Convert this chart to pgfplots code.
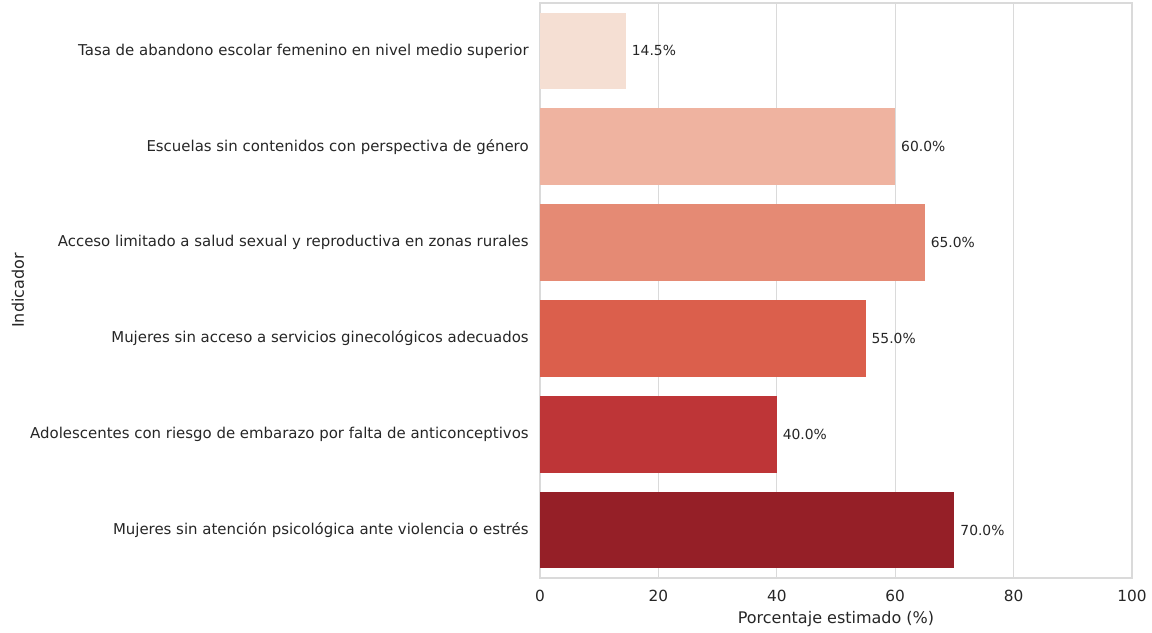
\documentclass[border=0pt]{standalone}
\usepackage{fontspec}
\setmainfont{DejaVu Sans}
\usepackage{pgfplots}
\pgfplotsset{compat=1.18}
\definecolor{cA}{HTML}{F5DFD3}
\definecolor{cB}{HTML}{EFB3A0}
\definecolor{cC}{HTML}{E58A74}
\definecolor{cD}{HTML}{DB5F4C}
\definecolor{cE}{HTML}{BE3537}
\definecolor{cF}{HTML}{951F27}
\definecolor{txt}{HTML}{262626}
\definecolor{gridc}{HTML}{DADADA}
\begin{document}
\begin{tikzpicture}
\useasboundingbox (0,0) rectangle (864pt,474pt);
\begin{axis}[
  at={(405pt,40.5pt)}, anchor=south west,
  scale only axis, width=444pt, height=431.25pt,
  xmin=0, xmax=100, ymin=-0.5, ymax=5.5, y dir=reverse,
  xtick={0,20,40,60,80,100},
  ytick={0,1,2,3,4,5},
  yticklabels={Tasa de abandono escolar femenino en nivel medio superior,
    Escuelas sin contenidos con perspectiva de género,
    Acceso limitado a salud sexual y reproductiva en zonas rurales,
    Mujeres sin acceso a servicios ginecológicos adecuados,
    Adolescentes con riesgo de embarazo por falta de anticonceptivos,
    Mujeres sin atención psicológica ante violencia o estrés},
  major tick length=0pt,
  xmajorgrids, grid style={gridc, line width=0.75pt},
  axis line style={gridc, line width=0.9pt},
  /pgf/number format/assume math mode=true,
  xticklabel style={font=\fontsize{11.5}{13}\selectfont, text=txt, yshift=-5.5pt},
  yticklabel style={font=\fontsize{11.2}{13}\selectfont, text=txt, xshift=-5pt},
  xlabel={Porcentaje estimado (\%)},
  ylabel={Indicador},
  xlabel style={font=\fontsize{12}{14}\selectfont, text=txt, at={(axis description cs:0.5,0)}, anchor=center, yshift=-30.5pt},
  ylabel style={font=\fontsize{12}{14}\selectfont, text=txt, at={(axis description cs:-0.882,0.5)}, anchor=center},
  xbar, bar width=0.8, bar shift=0pt,
  nodes near coords={\pgfmathprintnumber[fixed,fixed zerofill,precision=1]{\pgfplotspointmeta}\%},
  point meta=x,
  nodes near coords style={font=\fontsize{10.4}{12}\selectfont, text=txt, anchor=west, xshift=1pt},
  clip=false,
]
\addplot[fill=cA, draw=none] coordinates {(14.5,0)};
\addplot[fill=cB, draw=none] coordinates {(60,1)};
\addplot[fill=cC, draw=none] coordinates {(65,2)};
\addplot[fill=cD, draw=none] coordinates {(55,3)};
\addplot[fill=cE, draw=none] coordinates {(40,4)};
\addplot[fill=cF, draw=none] coordinates {(70,5)};
\end{axis}
\end{tikzpicture}
\end{document}
